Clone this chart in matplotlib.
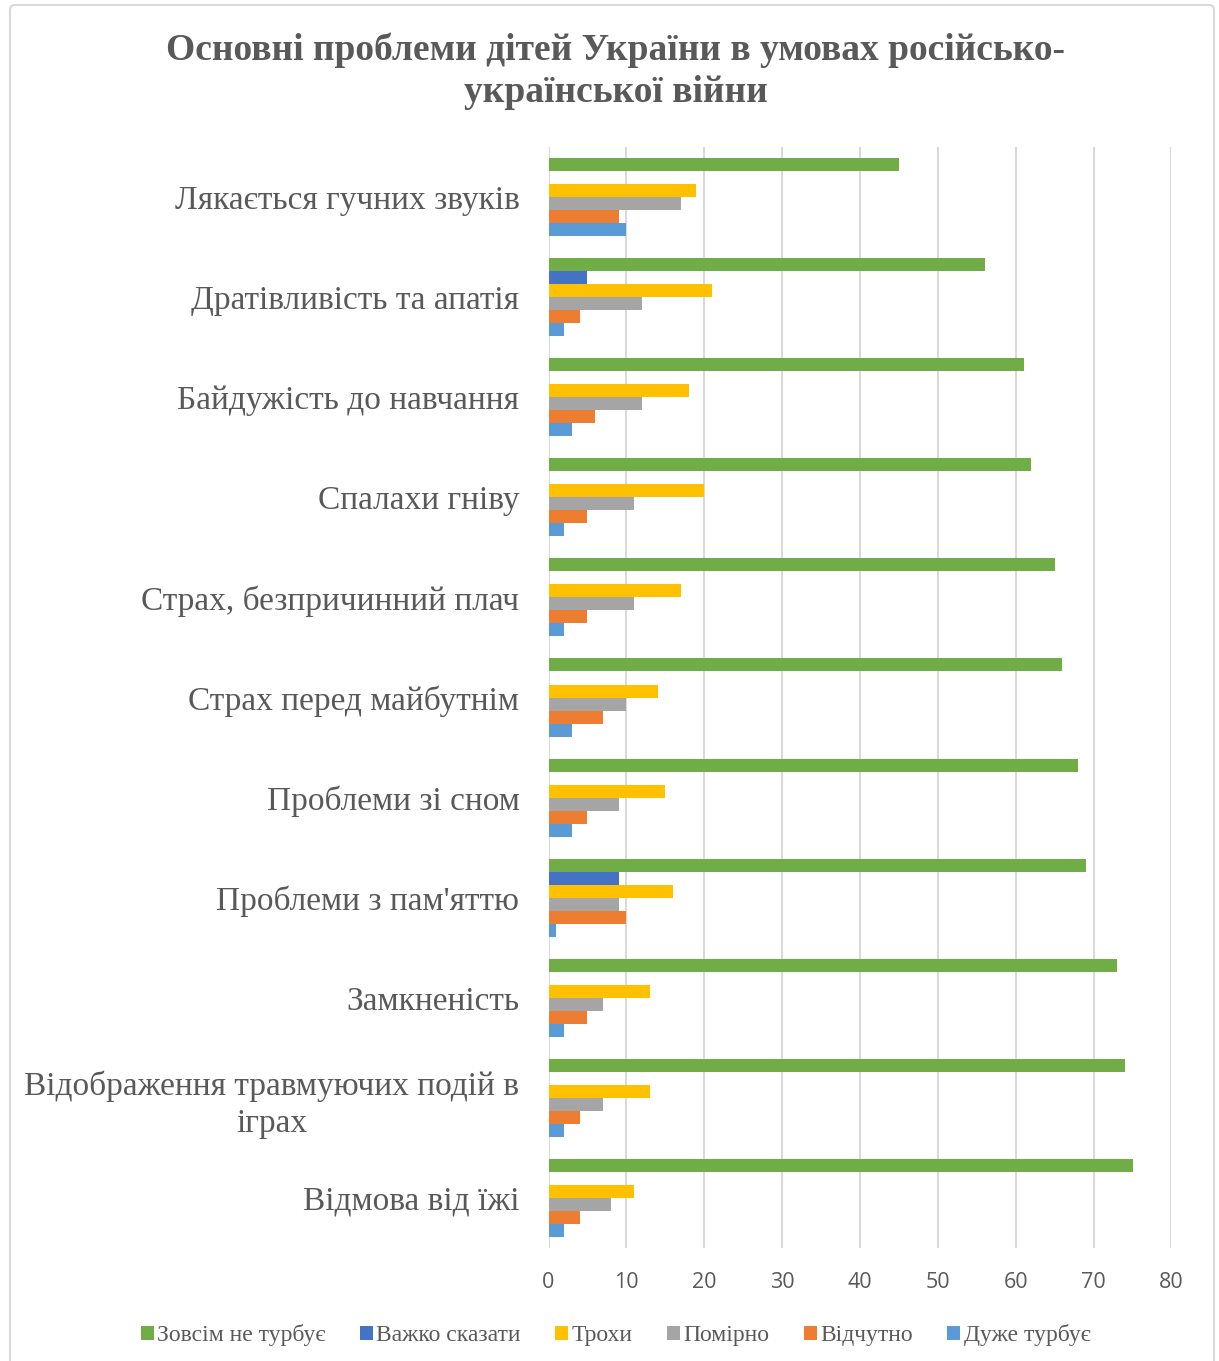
#!/usr/bin/env python
"""Grouped horizontal bar chart: main problems of Ukrainian children during the war."""

import matplotlib
matplotlib.use("Agg")
import matplotlib.pyplot as plt  # noqa: E402
import numpy as np  # noqa: E402
from matplotlib.patches import FancyBboxPatch, Patch  # noqa: E402

TITLE = "Основні проблеми дітей України в умовах російсько-\nукраїнської війни"

# categories, top to bottom
categories = [
    "Лякається гучних звуків",
    "Дратівливість та апатія",
    "Байдужість до навчання",
    "Спалахи гніву",
    "Страх, безпричинний плач",
    "Страх перед майбутнім",
    "Проблеми зі сном",
    "Проблеми з пам'яттю",
    "Замкненість",
    "Відображення травмуючих подій в\nіграх",
    "Відмова від їжі",
]

series_names = ["Зовсім не турбує", "Важко сказати", "Трохи", "Помірно", "Відчутно", "Дуже турбує"]

not_bothered = [45, 56, 61, 62, 65, 66, 68, 69, 73, 74, 75]
hard_to_say = [0, 5, 0, 0, 0, 0, 0, 9, 0, 0, 0]
a_little = [19, 21, 18, 20, 17, 14, 15, 16, 13, 13, 11]
moderate = [17, 12, 12, 11, 11, 10, 9, 9, 7, 7, 8]
noticeable = [9, 4, 6, 5, 5, 7, 5, 10, 5, 4, 4]
very_bothered = [10, 2, 3, 2, 2, 3, 3, 1, 2, 2, 2]

series_values = [not_bothered, hard_to_say, a_little, moderate, noticeable, very_bothered]
colors = ["#70AD47", "#4472C4", "#FFC000", "#A5A5A5", "#ED7D31", "#5B9BD5"]

TEXT = "#595959"
SERIF = ["Liberation Serif", "DejaVu Serif"]

fig = plt.figure(figsize=(12.19, 13.61), dpi=100)
ax = fig.add_axes([0.450, 0.083, 0.511, 0.809])

# chart border
fig.patches.append(FancyBboxPatch((10 / 1219, -0.01), 1204 / 1219, 1.0 - 5 / 1361 + 0.01,
                                  boxstyle="round,pad=0,rounding_size=0.004",
                                  transform=fig.transFigure, facecolor="none",
                                  edgecolor="#D9D9D9", linewidth=1.5))

y = np.arange(len(categories))
h = 0.13
for k, (vals, col) in enumerate(zip(series_values, colors)):
    ax.barh(y + (k - 2.5) * h, vals, height=h, color=col, zorder=3)

ax.set_xlim(0, 80)
ax.set_ylim(len(categories) - 0.5, -0.5)
ax.set_xticks(range(0, 81, 10))
ax.set_yticks(y)
ax.set_yticklabels(categories, family=SERIF, fontsize=24, color=TEXT,
                   linespacing=1.3, ha="right")
for lbl in ax.get_yticklabels():
    lbl.set_multialignment("center")
ax.tick_params(axis="y", length=0, pad=21)
ax.tick_params(axis="x", length=0, pad=17, labelsize=15.5, labelcolor=TEXT)
for lbl in ax.get_xticklabels():
    lbl.set_family(["Open Sans", "DejaVu Sans"])
ax.grid(axis="x", color="#D9D9D9", linewidth=1.5, zorder=0)
for s in ax.spines.values():
    s.set_visible(False)

fig.text(0.505, 0.976, TITLE, ha="center", va="top", family=SERIF, fontsize=27,
         fontweight="bold", color=TEXT, linespacing=1.27)

handles = [Patch(facecolor=c, edgecolor="none") for c in colors]
fig.legend(handles, series_names, loc="center", bbox_to_anchor=(0.505, 0.019), ncol=6,
           frameon=False, prop={"family": SERIF, "size": 17}, labelcolor=TEXT,
           handlelength=0.55, handleheight=0.55, handletextpad=0.15, columnspacing=1.45)

fig.savefig("out.png", dpi=100)
